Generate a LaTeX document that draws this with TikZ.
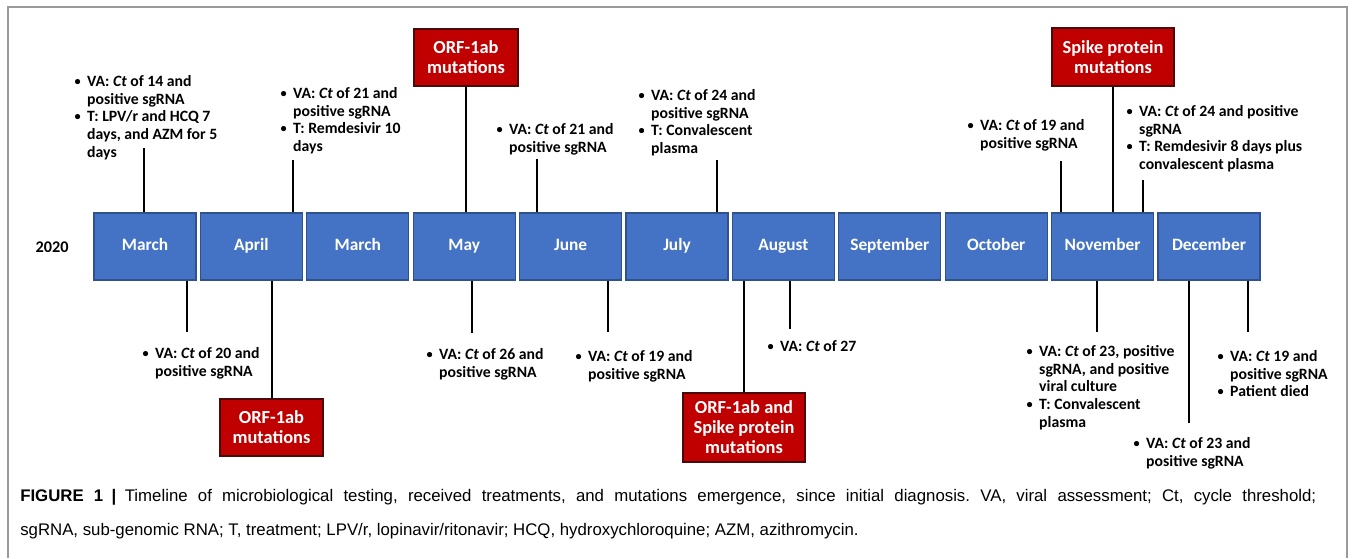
\documentclass[tikz,border=0pt]{standalone}
\usepackage{fontspec}
\setmainfont{Carlito}
\newfontfamily\capfont{Liberation Sans}
\usetikzlibrary{positioning}
\frenchspacing

\definecolor{monthblue}{HTML}{4472C4}
\definecolor{monthedge}{HTML}{2F528F}
\definecolor{mutred}{HTML}{C00000}
\definecolor{mutedge}{HTML}{4A0A0A}
\definecolor{framegray}{HTML}{9A9A9A}

\newcommand{\bul}{\makebox[9.5pt][l]{\raisebox{0.15ex}{\scalebox{0.78}{\textbullet}}}}
\newcommand{\ind}{\hspace*{9.5pt}}

\tikzset{
  month/.style={draw=monthedge, line width=0.8pt, fill=monthblue, text=white,
    font=\bfseries\fontsize{13}{15}\selectfont, text height=1.6ex, text depth=0.4ex,
    minimum width=76.5pt, minimum height=50.25pt, inner sep=0pt},
  mutation/.style={draw=mutedge, line width=0.8pt, fill=mutred, text=white,
    align=center, font=\bfseries\fontsize{13.8}{15}\selectfont, inner sep=0pt},
  note/.style={anchor=north west, align=left, inner sep=0pt, yshift=-3pt,
    font=\bfseries\fontsize{11.8}{13.3}\selectfont},
  link/.style={line width=1.5pt, black},
}

\begin{document}
\begin{tikzpicture}[x=0.75pt, y=-0.75pt]
\useasboundingbox (0,0) rectangle (1354,558);
\draw[framegray, line width=0.8pt] (8,558) -- (8,7) -- (1347,7) -- (1347,558);

% months of 2020
\node[font=\bfseries\fontsize{12.2}{14}\selectfont] (year) at (52,247) {2020};
\foreach \mname [count=\i] in {March,April,March,May,June,July,August,September,October,November,December}
  \node[month] (m\i) at ({145+106.4*(\i-1)},246.5) {\mname};

% mutation boxes
\node[mutation, minimum width=78pt, minimum height=42.75pt] (orfa) at (466,57.5) {ORF-1ab\\mutations};
\node[mutation, minimum width=91.5pt, minimum height=43.5pt] (spike) at (1113,57) {Spike protein\\mutations};
\node[mutation, minimum width=77.25pt, minimum height=42.75pt] (orfb) at (271.5,427.5) {ORF-1ab\\mutations};
\node[mutation, minimum width=91.5pt, minimum height=51.75pt] (orfspike) at (744,427.5) {ORF-1ab and\\Spike protein\\mutations};

% notes above the months
\node[note] (t1) at (74.3,71) {\bul VA: \textit{Ct} of 14 and\\ \ind positive sgRNA\\ \bul T: LPV/r and HCQ 7\\ \ind days, and AZM for 5\\ \ind days};
\node[note] (t2) at (280.3,83) {\bul VA: \textit{Ct} of 21 and\\ \ind positive sgRNA\\ \bul T: Remdesivir 10\\ \ind days};
\node[note] (t3) at (496.3,119) {\bul VA: \textit{Ct} of 21 and\\ \ind positive sgRNA};
\node[note] (t4) at (638.3,85) {\bul VA: \textit{Ct} of 24 and\\ \ind positive sgRNA\\ \bul T: Convalescent\\ \ind plasma};
\node[note] (t5) at (967.3,115) {\bul VA: \textit{Ct} of 19 and\\ \ind positive sgRNA};
\node[note] (t6) at (1126.3,101) {\bul VA: \textit{Ct} of 24 and positive\\ \ind sgRNA\\ \bul T: Remdesivir 8 days plus\\ \ind convalescent plasma};

% notes below the months
\node[note] (b1) at (142.3,343) {\bul VA: \textit{Ct} of 20 and\\ \ind positive sgRNA};
\node[note] (b2) at (426.3,344) {\bul VA: \textit{Ct} of 26 and\\ \ind positive sgRNA};
\node[note] (b3) at (575.3,346) {\bul VA: \textit{Ct} of 19 and\\ \ind positive sgRNA};
\node[note] (b4) at (767.3,336) {\bul VA: \textit{Ct} of 27};
\node[note] (b5) at (1026.3,341) {\bul VA: \textit{Ct} of 23, positive\\ \ind sgRNA, and positive\\ \ind viral culture\\ \bul T: Convalescent\\ \ind plasma};
\node[note] (b6) at (1133.3,433) {\bul VA: \textit{Ct} of 23 and\\ \ind positive sgRNA};
\node[note] (b7) at (1217.3,346) {\bul VA: \textit{Ct} 19 and\\ \ind positive sgRNA\\ \bul Patient died};

% line ends
\coordinate (e1) at (144,148);
\coordinate (e2) at (293,160);
\coordinate (e3) at (537,159);
\coordinate (e4) at (717,160);
\coordinate (e5) at (1061,161);
\coordinate (e6) at (1143,180);
\coordinate (f1) at (187,332);
\coordinate (f2) at (472,333);
\coordinate (f3) at (608,332);
\coordinate (f4) at (790,329);
\coordinate (f5) at (1097,332);
\coordinate (f6) at (1189,423);
\coordinate (f7) at (1248,332);

\draw[link] (e1) -- (e1 |- m1.north);
\draw[link] (e2) -- (e2 |- m2.north);
\draw[link] (orfa.south) -- (orfa.south |- m4.north);
\draw[link] (e3) -- (e3 |- m5.north);
\draw[link] (e4) -- (e4 |- m6.north);
\draw[link] (e5) -- (e5 |- m10.north);
\draw[link] (spike.south) -- (spike.south |- m10.north);
\draw[link] (e6) -- (e6 |- m10.north);

\draw[link] (f1) -- (f1 |- m1.south);
\draw[link] (orfb.north) -- (orfb.north |- m2.south);
\draw[link] (f2) -- (f2 |- m4.south);
\draw[link] (f3) -- (f3 |- m5.south);
\draw[link] (orfspike.north) -- (orfspike.north |- m7.south);
\draw[link] (f4) -- (f4 |- m7.south);
\draw[link] (f5) -- (f5 |- m10.south);
\draw[link] (f6) -- (f6 |- m11.south);
\draw[link] (f7) -- (f7 |- m11.south);

% caption
\node[anchor=north west, inner sep=0pt, align=left, font=\capfont\fontsize{12.6}{25.5}\selectfont] (cap) at (20,489)
  {\hbox to 972pt{\textbf{FIGURE 1}\enspace\textbf{|}\enspace Timeline of microbiological testing, received treatments, and mutations emergence, since initial diagnosis. VA, viral assessment; Ct, cycle threshold;}\\
   sgRNA, sub-genomic RNA; T, treatment; LPV/r, lopinavir/ritonavir; HCQ, hydroxychloroquine; AZM, azithromycin.};
\end{tikzpicture}
\end{document}
